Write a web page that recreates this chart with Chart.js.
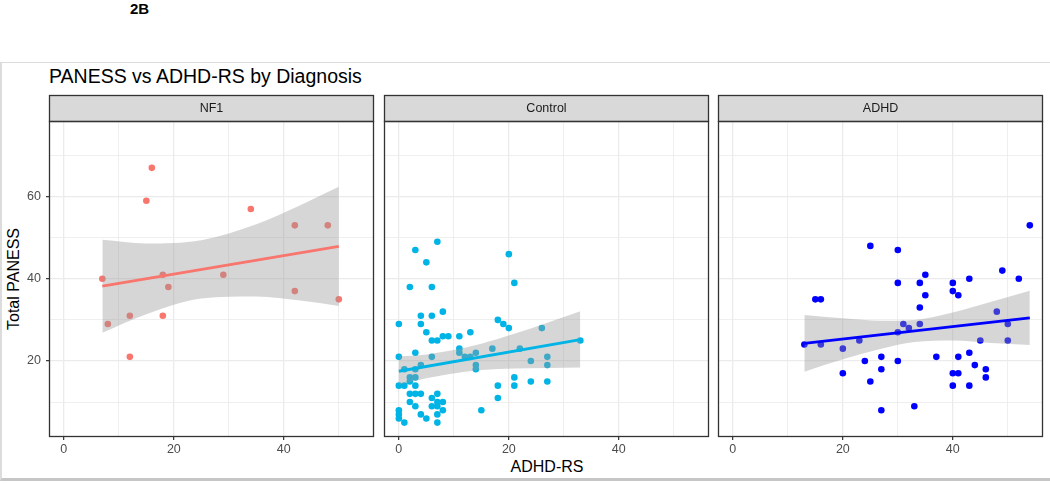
<!DOCTYPE html>
<html>
<head>
<meta charset="utf-8">
<script src="https://cdn.jsdelivr.net/npm/chart.js@4.4.1/dist/chart.umd.min.js"></script>
<style>
  html, body { margin: 0; padding: 0; background: #fff; }
  body { width: 1050px; height: 485px; position: relative; overflow: hidden;
         font-family: 'Liberation Sans', Arial, sans-serif; color: #000; }
  #frame { position: absolute; left: 0; top: 62px; width: 1060px; height: 415px;
           border-top: 1px solid #dcdcdc; border-left: 2px solid #dcdcdc; border-bottom: 3px solid #c6c6c6; }
  .lbl { position: absolute; white-space: nowrap; }
  #fig { left: 130px; top: 0; font: bold 15px/17px 'Liberation Sans', Arial, sans-serif; }
  #title { left: 49px; top: 64px; font-size: 19.5px; line-height: 24px; }
  #ylab { left: -86px; top: 269px; width: 200px; text-align: center; font-size: 16px; line-height: 20px;
          transform: rotate(-90deg); }
  #xlab { left: 447px; top: 457px; width: 200px; text-align: center; font-size: 16px; line-height: 20px; }
  canvas { position: absolute; }
</style>
</head>
<body>
<div id="frame"></div>
<div class="lbl" id="fig">2B</div>
<div class="lbl" id="title">PANESS vs ADHD-RS by Diagnosis</div>
<div class="lbl" id="ylab">Total PANESS</div>
<div class="lbl" id="xlab">ADHD-RS</div>

<script>
/* ── Data ── */
const NF1_X = [7, 8, 12, 12, 15, 16, 18, 18, 19, 29, 34, 42, 42, 48, 50];
const NF1_Y = [40, 29, 31, 21, 59, 67, 41, 31, 38, 41, 57, 53, 37, 53, 35];

const CTRL_X = [0, 0, 0, 0, 0, 0, 1, 1, 1, 2, 2, 2, 2, 2, 3, 3, 3, 3, 3, 3, 3,
                4, 4, 4, 4, 4, 5, 5, 5, 6, 6, 6, 6, 6, 6, 7, 7, 7, 7, 7, 7, 7,
                8, 8, 8, 8, 9, 11, 11, 11, 12, 13, 13, 14, 14, 14, 15, 17,
                18, 18, 18, 19, 20, 20, 21, 21, 21, 22, 24, 24, 26, 27, 27, 27, 33];
const CTRL_Y = [29, 21, 14, 8, 7, 6, 5, 18, 14, 38, 16, 15, 12, 10, 47, 22, 18, 16, 14, 12, 9,
                31, 29, 19, 12, 7, 44, 27, 6, 38, 31, 25, 21, 11, 9, 49, 25, 12, 10, 9, 7, 5,
                32, 26, 10, 8, 26, 26, 23, 22, 21, 27, 21, 22, 19, 18, 8, 23,
                30, 14, 11, 29, 28, 46, 39, 16, 14, 23, 20, 15, 28, 21, 19, 15, 25];

const ADHD_X = [13, 15, 16, 16, 20, 20, 23, 24, 25, 25, 27, 27, 27, 30, 30, 30, 30, 31, 32, 33,
                34, 34, 34, 35, 35, 37, 40, 40, 40, 40, 41, 41, 41, 43, 43, 43, 44, 45, 46, 46,
                48, 49, 50, 50, 52, 54];
const ADHD_Y = [24, 35, 35, 24, 23, 17, 25, 20, 48, 15, 21, 18, 8, 47, 39, 27, 20, 29, 28, 9,
                39, 33, 29, 41, 36, 21, 39, 37, 17, 14, 36, 21, 17, 40, 22, 14, 19, 25, 18, 16,
                32, 42, 29, 25, 40, 53];

/* fitted lines + confidence ribbons */
const NF1_FIT_X = [7, 50];
const NF1_FIT_Y = [38.2, 47.9];
const NF1_BAND_X = [7, 15, 25, 35, 43, 50];
const NF1_BAND_HI = [49.5, 48.6, 49.4, 53.3, 57.9, 62.4];
const NF1_BAND_LO = [26.9, 31.4, 35.2, 35.7, 34.7, 33.4];

const CTRL_FIT_X = [0, 33];
const CTRL_FIT_Y = [17.5, 25.2];
const CTRL_BAND_X = [0, 5, 9, 15, 21, 27, 33];
const CTRL_BAND_HI = [21.1, 21.6, 22.4, 24.2, 26.6, 29.3, 32.1];
const CTRL_BAND_LO = [14.2, 15.8, 16.8, 17.8, 18.2, 18.3, 18.4];

const ADHD_FIT_X = [13, 54];
const ADHD_FIT_Y = [24.3, 30.5];
const ADHD_BAND_X = [13, 20, 27, 33, 40, 47, 54];
const ADHD_BAND_HI = [31.2, 30.4, 29.8, 30.0, 31.8, 34.4, 37.1];
const ADHD_BAND_LO = [17.4, 20.4, 23.0, 24.6, 25.0, 24.4, 23.9];

/* axes */
const X_TICKS = [0, 10, 20, 30, 40, 50];
const Y_TICKS = [10, 20, 30, 40, 50, 60, 70];
const X_RANGE = [-2.7, 56.4];
const Y_RANGE = [1.5, 78.4];

/* ── Layout ── */
const PANEL_W = 326;
const PANEL_TOP = 90;     // canvas top in page
const CANVAS_H = 375;
const STRIP_H = 26;

Chart.defaults.font.family = "'Liberation Sans', Arial, sans-serif";

const xy = (xs, ys) => xs.map((x, i) => ({ x, y: ys[i] }));
const isMajor = v => v % 20 === 0;

/* strip + panel border */
const facetFrame = {
  id: 'facetFrame',
  afterDraw(chart, args, opts) {
    const { ctx, chartArea: a } = chart;
    ctx.save();
    ctx.fillStyle = '#D9D9D9';
    ctx.fillRect(a.left, a.top - STRIP_H, a.width, STRIP_H);
    ctx.strokeStyle = '#333';
    ctx.lineWidth = 1.3;
    ctx.strokeRect(a.left + 0.5, a.top - STRIP_H + 0.5, a.width - 1, STRIP_H);
    ctx.strokeRect(a.left + 0.5, a.top + 0.5, a.width - 1, a.height - 1);
    ctx.fillStyle = '#1A1A1A';
    ctx.font = "12.5px 'Liberation Sans', Arial, sans-serif";
    ctx.textAlign = 'center';
    ctx.textBaseline = 'middle';
    ctx.fillText(opts.label, (a.left + a.right) / 2, a.top - STRIP_H / 2 + 1);
    ctx.restore();
  }
};

function makePanel(p, idx) {
  const first = idx === 0;
  const axisW = first ? 49 : 6;
  const cv = document.createElement('canvas');
  cv.width = axisW + PANEL_W + 3;
  cv.height = CANVAS_H;
  cv.style.left = (p.left - axisW) + 'px';
  cv.style.top = PANEL_TOP + 'px';
  document.body.appendChild(cv);

  const gridColor = '#EBEBEB';
  const gridW = c => (c.tick && isMajor(c.tick.value) ? 1.3 : 0.8);
  const tickCol = c => (c.tick && isMajor(c.tick.value) ? '#333' : 'rgba(0,0,0,0)');
  const label = v => (isMajor(v) ? String(v) : '');

  new Chart(cv, {
    type: 'line',
    data: {
      datasets: [
        { data: xy(p.fitX, p.fitY), borderColor: p.color, borderWidth: 2.8,
          pointRadius: 0, fill: false, order: 0 },
        { data: xy(p.bandX, p.hi), borderWidth: 0, borderColor: 'rgba(0,0,0,0)',
          pointRadius: 0, fill: false, cubicInterpolationMode: 'monotone', order: 1 },
        { data: xy(p.bandX, p.lo), borderWidth: 0, borderColor: 'rgba(0,0,0,0)',
          pointRadius: 0, fill: 1, backgroundColor: 'rgba(153,153,153,0.4)',
          cubicInterpolationMode: 'monotone', order: 1 },
        { data: xy(p.x, p.y), showLine: false, pointRadius: 3.3, pointBorderWidth: 0,
          pointBackgroundColor: p.color, backgroundColor: p.color, order: 2 },
      ],
    },
    options: {
      responsive: false,
      animation: false,
      devicePixelRatio: 1,
      layout: { padding: { top: PANEL_TOP === 90 ? 31 : 31, right: 3, bottom: 0, left: 0 } },
      plugins: { legend: { display: false }, tooltip: { enabled: false }, facetFrame: { label: p.name } },
      scales: {
        x: {
          type: 'linear', min: X_RANGE[0], max: X_RANGE[1],
          afterBuildTicks: s => { s.ticks = X_TICKS.map(v => ({ value: v })); },
          afterFit: s => { s.height = 28; },
          border: { display: false },
          grid: { color: gridColor, lineWidth: gridW, tickLength: 3, tickColor: tickCol, tickWidth: 1.2 },
          ticks: { autoSkip: false, maxRotation: 0, padding: 2, color: '#4D4D4D',
                   font: { size: 12.5 }, callback: label },
        },
        y: {
          type: 'linear', min: Y_RANGE[0], max: Y_RANGE[1],
          afterBuildTicks: s => { s.ticks = Y_TICKS.map(v => ({ value: v })); },
          afterFit: s => { s.width = axisW; },
          border: { display: false },
          grid: { color: gridColor, lineWidth: gridW, drawTicks: first, tickLength: 3,
                  tickColor: tickCol, tickWidth: 1.2 },
          ticks: { display: first, autoSkip: false, padding: 5, color: '#4D4D4D',
                   font: { size: 12.5 }, callback: label },
        },
      },
    },
    plugins: [facetFrame],
  });
}

const PANELS = [
  { name: 'NF1', left: 49, color: '#F8766D', x: NF1_X, y: NF1_Y,
    fitX: NF1_FIT_X, fitY: NF1_FIT_Y, bandX: NF1_BAND_X, hi: NF1_BAND_HI, lo: NF1_BAND_LO },
  { name: 'Control', left: 384, color: '#00B4E6', x: CTRL_X, y: CTRL_Y,
    fitX: CTRL_FIT_X, fitY: CTRL_FIT_Y, bandX: CTRL_BAND_X, hi: CTRL_BAND_HI, lo: CTRL_BAND_LO },
  { name: 'ADHD', left: 718, color: '#0000FF', x: ADHD_X, y: ADHD_Y,
    fitX: ADHD_FIT_X, fitY: ADHD_FIT_Y, bandX: ADHD_BAND_X, hi: ADHD_BAND_HI, lo: ADHD_BAND_LO },
];

PANELS.forEach(makePanel);
</script>
</body>
</html>
